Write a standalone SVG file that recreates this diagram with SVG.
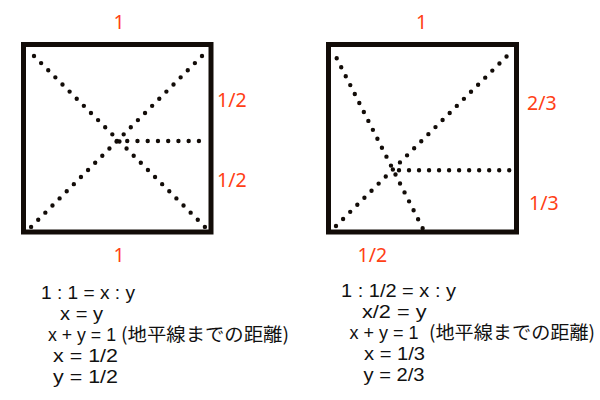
<svg xmlns="http://www.w3.org/2000/svg" width="600" height="400" viewBox="0 0 600 400">
<style>
.sq{fill:none;stroke:#120c08;stroke-width:5}
.dots{fill:none;stroke:#120c08;stroke-width:4.4;stroke-linecap:round}
.lbl{font-family:"Noto Sans","Noto Sans CJK JP",sans-serif;font-size:19.5px;fill:#ff4015}
.m{font-family:"Liberation Sans","Noto Sans CJK JP",sans-serif;font-size:18.6px;fill:#111}
.j{font-family:"Noto Sans CJK JP",sans-serif;font-size:18.5px;fill:#111}
</style>
<rect width="600" height="400" fill="#fff"/>
<g id="left-square">
<rect class="sq" x="23.5" y="44.5" width="187.5" height="187.5"/>
<path class="dots" d="M34,56 L205,227" stroke-dasharray="0 10.07"/>
<path class="dots" d="M202,56 L31,227" stroke-dasharray="0 10.07"/>
<path class="dots" d="M117,141 L199,141" stroke-dasharray="0 10.24"/>
</g>
<g id="left-labels">
<text class="lbl" x="119" y="29" text-anchor="middle">1</text>
<text class="lbl" x="217" y="106.5">1/2</text>
<text class="lbl" x="217" y="186.5">1/2</text>
<text class="lbl" x="119" y="261.5" text-anchor="middle">1</text>
</g>
<g id="right-square">
<rect class="sq" x="328.5" y="44.5" width="188" height="187.5"/>
<path class="dots" d="M336,226 L506.7,56.3" stroke-dasharray="0 10.02"/>
<path class="dots" d="M336.7,58.3 L422.7,228.3" stroke-dasharray="0 10.02"/>
<path class="dots" d="M399,170.3 L509.3,170.3" stroke-dasharray="0 10.02"/>
</g>
<g id="right-labels">
<text class="lbl" x="421.5" y="29" text-anchor="middle">1</text>
<text class="lbl" x="527" y="110">2/3</text>
<text class="lbl" x="529" y="210">1/3</text>
<text class="lbl" x="357.5" y="261.5">1/2</text>
</g>
<g id="left-equations">
<text class="m" x="41" y="299" textLength="94" lengthAdjust="spacingAndGlyphs">1 : 1 = x : y</text>
<text class="m" x="60" y="320" textLength="43" lengthAdjust="spacingAndGlyphs">x = y</text>
<text class="m" x="48" y="341" textLength="68" lengthAdjust="spacingAndGlyphs">x + y = 1</text>
<text class="j" x="121" y="341" textLength="168" lengthAdjust="spacingAndGlyphs">(地平線までの距離)</text>
<text class="m" x="53" y="362" textLength="65" lengthAdjust="spacingAndGlyphs">x = 1/2</text>
<text class="m" x="53" y="383" textLength="65" lengthAdjust="spacingAndGlyphs">y = 1/2</text>
</g>
<g id="right-equations">
<text class="m" x="341" y="297" textLength="115" lengthAdjust="spacingAndGlyphs">1 : 1/2 = x : y</text>
<text class="m" x="362" y="318" textLength="64.5" lengthAdjust="spacingAndGlyphs">x/2 = y</text>
<text class="m" x="349.5" y="339" textLength="69" lengthAdjust="spacingAndGlyphs">x + y = 1</text>
<text class="j" x="429" y="339" textLength="166" lengthAdjust="spacingAndGlyphs">(地平線までの距離)</text>
<text class="m" x="364" y="360" textLength="61" lengthAdjust="spacingAndGlyphs">x = 1/3</text>
<text class="m" x="363.5" y="381" textLength="61" lengthAdjust="spacingAndGlyphs">y = 2/3</text>
</g>
</svg>
